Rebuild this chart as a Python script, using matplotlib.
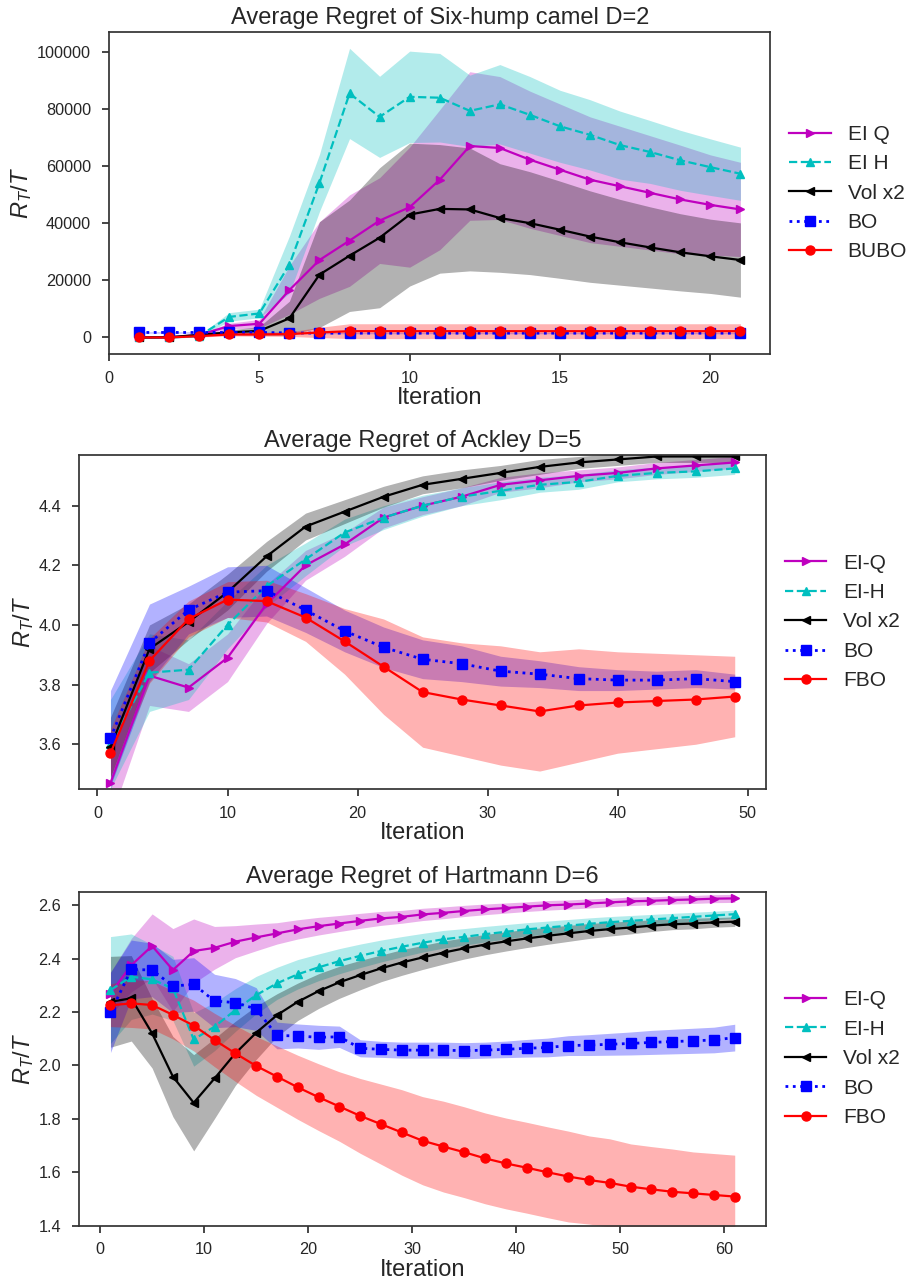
#!/usr/bin/env python3
"""
plot.py
Average regret curves (mean +/- std bands) for three benchmark functions.
"""

import matplotlib

matplotlib.use("Agg")
import matplotlib.pyplot as plt

plt.rcParams["font.family"] = ["Liberation Sans", "DejaVu Sans"]
plt.rcParams["mathtext.fontset"] = "custom"
plt.rcParams["mathtext.rm"] = "Liberation Sans"
plt.rcParams["mathtext.it"] = "Liberation Sans:italic"
plt.rcParams["text.color"] = "#262626"
plt.rcParams["axes.labelcolor"] = "#262626"
plt.rcParams["axes.edgecolor"] = "#333333"
plt.rcParams["axes.linewidth"] = 1.25
plt.rcParams["xtick.color"] = "#262626"
plt.rcParams["ytick.color"] = "#262626"
plt.rcParams["xtick.direction"] = "out"
plt.rcParams["ytick.direction"] = "out"
plt.rcParams["xtick.major.size"] = 5
plt.rcParams["ytick.major.size"] = 5
plt.rcParams["xtick.major.width"] = 1.2
plt.rcParams["ytick.major.width"] = 1.2
plt.rcParams["xtick.major.pad"] = 7
plt.rcParams["ytick.major.pad"] = 8

# ============================================================
# Six-hump camel D=2  (iterations 1..21)
# ============================================================
it_camel = list(range(1, 22))
eiq_camel = [0, 0, 900, 4000, 4800, 16600, 27100, 33900, 40900, 45600, 55200,
             67000, 66300, 62200, 58700, 55200, 52900, 50600, 48300, 46400, 44800]
eiq_camel_std = [0, 0, 300, 1000, 1500, 8500, 13400, 16000, 15000, 21000, 24500,
                 26000, 25000, 24000, 23000, 22000, 21000, 20000, 19000, 17500, 16500]
eih_camel = [0, 0, 500, 7200, 8400, 25500, 54100, 85400, 77200, 84200, 83900,
             79300, 81600, 77900, 73900, 70900, 67300, 64900, 62000, 59600, 57300]
eih_camel_std = [300, 300, 300, 1500, 1500, 10000, 10000, 15800, 14200, 16000, 15500,
                 12500, 13900, 13400, 12600, 12300, 11900, 11000, 10500, 9900, 9300]
vol_camel = [0, 100, 900, 1800, 2300, 6700, 22000, 28600, 34900, 43000, 45000,
             44800, 41800, 40000, 37700, 35300, 33300, 31500, 29800, 28400, 27100]
vol_camel_std = [100, 100, 300, 800, 1500, 6000, 18500, 19500, 24500, 25000, 22500,
                 21500, 19000, 18000, 17000, 16000, 15000, 14200, 13500, 13000, 13000]
bo_camel = [1750, 1750, 1750, 1750, 1750, 1600, 1500, 1500, 1500, 1500, 1500,
            1500, 1500, 1500, 1500, 1500, 1500, 1500, 1500, 1500, 1500]
bo_camel_std = [200] * 21
bubo_camel = [0, 0, 470, 1050, 1050, 1170, 1750, 2200, 2200, 2200, 2200,
              2200, 2200, 2200, 2200, 2200, 2200, 2200, 2200, 2200, 2200]
bubo_camel_std = [100, 100, 300, 500, 600, 800, 1800, 2600, 2600, 2600, 2600,
                  2600, 2600, 2600, 2600, 2600, 2600, 2600, 2600, 2600, 2600]

# ============================================================
# Ackley D=5  (iterations 1, 4, ..., 49)
# ============================================================
it_ackley = list(range(1, 50, 3))
eiq_ackley = [3.47, 3.83, 3.79, 3.89, 4.07, 4.20, 4.27, 4.36, 4.40, 4.43, 4.47,
              4.485, 4.50, 4.51, 4.525, 4.535, 4.545]
eiq_ackley_std = [0.12, 0.10, 0.08, 0.08, 0.065, 0.05, 0.04, 0.035, 0.03, 0.03, 0.025,
                  0.025, 0.02, 0.02, 0.02, 0.02, 0.02]
eih_ackley = [3.60, 3.84, 3.85, 4.00, 4.13, 4.22, 4.31, 4.36, 4.40, 4.43, 4.45,
              4.47, 4.48, 4.50, 4.51, 4.515, 4.525]
eih_ackley_std = [0.15, 0.13, 0.10, 0.08, 0.07, 0.055, 0.045, 0.04, 0.035, 0.03, 0.03,
                  0.025, 0.025, 0.02, 0.02, 0.02, 0.02]
vol_ackley = [3.59, 3.92, 4.01, 4.11, 4.23, 4.33, 4.38, 4.43, 4.47, 4.49, 4.51,
              4.53, 4.545, 4.555, 4.565, 4.565, 4.565]
vol_ackley_std = [0.10, 0.08, 0.06, 0.06, 0.05, 0.045, 0.04, 0.035, 0.03, 0.03, 0.025,
                  0.025, 0.02, 0.02, 0.02, 0.02, 0.02]
bo_ackley = [3.62, 3.94, 4.05, 4.11, 4.115, 4.05, 3.98, 3.925, 3.885, 3.87, 3.845,
             3.835, 3.82, 3.815, 3.815, 3.82, 3.81]
bo_ackley_std = [0.16, 0.13, 0.08, 0.085, 0.085, 0.075, 0.07, 0.068, 0.065, 0.06, 0.05,
                 0.045, 0.04, 0.035, 0.03, 0.03, 0.025]
fbo_ackley = [3.57, 3.88, 4.02, 4.085, 4.08, 4.025, 3.945, 3.86, 3.775, 3.75, 3.73,
              3.71, 3.73, 3.74, 3.745, 3.75, 3.76]
fbo_ackley_std = [0.08, 0.075, 0.06, 0.06, 0.07, 0.08, 0.11, 0.16, 0.185, 0.19, 0.20,
                  0.20, 0.19, 0.17, 0.16, 0.15, 0.135]

# ============================================================
# Hartmann D=6  (iterations 1, 3, ..., 61)
# ============================================================
it_hart = list(range(1, 62, 2))
eiq_hart = [2.269, 2.375, 2.447, 2.357, 2.428, 2.440, 2.463, 2.479, 2.494, 2.509,
            2.521, 2.531, 2.541, 2.550, 2.556, 2.565, 2.571, 2.578, 2.584, 2.589,
            2.594, 2.599, 2.602, 2.606, 2.610, 2.614, 2.616, 2.619, 2.621, 2.624, 2.625]
eiq_hart_std = [0.08, 0.10, 0.12, 0.155, 0.12, 0.08, 0.06, 0.05, 0.04, 0.036,
                0.033, 0.03, 0.028, 0.026, 0.024, 0.023, 0.022, 0.021, 0.02, 0.019,
                0.018, 0.018, 0.017, 0.017, 0.016, 0.016, 0.015, 0.015, 0.015, 0.015, 0.015]
eih_hart = [2.282, 2.332, 2.322, 2.288, 2.097, 2.145, 2.207, 2.263, 2.307, 2.341,
            2.367, 2.390, 2.410, 2.428, 2.444, 2.459, 2.472, 2.481, 2.491, 2.500,
            2.509, 2.516, 2.523, 2.530, 2.536, 2.541, 2.546, 2.551, 2.556, 2.561, 2.566]
eih_hart_std = [0.20, 0.16, 0.13, 0.12, 0.10, 0.09, 0.08, 0.07, 0.06, 0.055,
                0.05, 0.047, 0.044, 0.041, 0.038, 0.035, 0.033, 0.031, 0.029, 0.027,
                0.025, 0.024, 0.023, 0.022, 0.021, 0.02, 0.019, 0.018, 0.017, 0.016, 0.015]
vol_hart = [2.238, 2.251, 2.120, 1.958, 1.860, 1.951, 2.045, 2.122, 2.188, 2.238,
            2.278, 2.311, 2.338, 2.363, 2.385, 2.404, 2.422, 2.438, 2.452, 2.464,
            2.475, 2.485, 2.494, 2.503, 2.510, 2.516, 2.523, 2.528, 2.531, 2.535, 2.538]
vol_hart_std = [0.17, 0.16, 0.13, 0.15, 0.18, 0.15, 0.12, 0.10, 0.08, 0.07,
                0.065, 0.06, 0.055, 0.05, 0.048, 0.045, 0.043, 0.04, 0.038, 0.036,
                0.034, 0.032, 0.03, 0.028, 0.026, 0.024, 0.022, 0.02, 0.02, 0.018, 0.018]
bo_hart = [2.198, 2.359, 2.357, 2.297, 2.303, 2.241, 2.235, 2.211, 2.112, 2.110,
           2.105, 2.107, 2.064, 2.060, 2.057, 2.057, 2.057, 2.055, 2.057, 2.060,
           2.064, 2.067, 2.074, 2.076, 2.079, 2.082, 2.086, 2.089, 2.092, 2.095, 2.104]
bo_hart_std = [0.15, 0.11, 0.10, 0.10, 0.10, 0.10, 0.09, 0.08, 0.05, 0.045,
               0.045, 0.04, 0.032, 0.03, 0.03, 0.03, 0.03, 0.03, 0.03, 0.031,
               0.033, 0.035, 0.037, 0.039, 0.041, 0.043, 0.045, 0.046, 0.047, 0.048, 0.05]
fbo_hart = [2.225, 2.232, 2.226, 2.189, 2.149, 2.095, 2.045, 1.998, 1.958, 1.918,
            1.881, 1.846, 1.811, 1.780, 1.749, 1.718, 1.696, 1.675, 1.652, 1.633,
            1.617, 1.600, 1.584, 1.571, 1.560, 1.546, 1.536, 1.527, 1.521, 1.515, 1.509]
fbo_hart_std = [0.08, 0.09, 0.09, 0.09, 0.095, 0.10, 0.105, 0.11, 0.115, 0.12,
                0.125, 0.13, 0.14, 0.15, 0.16, 0.165, 0.17, 0.17, 0.17, 0.17,
                0.17, 0.17, 0.17, 0.165, 0.165, 0.16, 0.16, 0.16, 0.155, 0.155, 0.155]

# style per method: color, marker, linestyle, marker size
STYLES = [
    ("m", ">", "-", 5.5),
    ("c", "^", "--", 5.5),
    ("k", "<", "-", 5.5),
    ("b", "s", ":", 6.5),
    ("r", "o", "-", 6.5),
]


def draw_panel(ax, x, series, labels, title):
    # bands first, then the mean curves on top
    for (mean, std), (color, _, _, _) in zip(series, STYLES):
        lo = [m - s for m, s in zip(mean, std)]
        hi = [m + s for m, s in zip(mean, std)]
        ax.fill_between(x, lo, hi, color=color, alpha=0.3, linewidth=0)
    for (mean, _), (color, marker, ls, ms), label in zip(series, STYLES, labels):
        lw = 2.0 if ls == ":" else 1.6
        ax.plot(x, mean, color=color, marker=marker, linestyle=ls,
                linewidth=lw, markersize=ms, label=label)
    ax.set_title(title, fontsize=17)
    ax.set_xlabel("Iteration", fontsize=17, labelpad=1)
    ax.set_ylabel(r"$R_T/T$", fontsize=17, labelpad=2)
    ax.tick_params(labelsize=11.7)
    ax.legend(loc="center left", bbox_to_anchor=(1.0, 0.5), frameon=False,
              fontsize=15, handlelength=2.0)


def main():
    fig = plt.figure(figsize=(9.1, 12.86), dpi=100)

    ax1 = fig.add_axes([0.1198, 0.7247, 0.7269, 0.2502])
    draw_panel(
        ax1, it_camel,
        [(eiq_camel, eiq_camel_std), (eih_camel, eih_camel_std),
         (vol_camel, vol_camel_std), (bo_camel, bo_camel_std),
         (bubo_camel, bubo_camel_std)],
        ["EI Q", "EI H", "Vol x2", "BO", "BUBO"],
        "Average Regret of Six-hump camel D=2",
    )
    ax1.set_xlim(0, 22)
    ax1.set_ylim(-5800, 106800)
    ax1.set_xticks([0, 5, 10, 15, 20])
    ax1.set_yticks([0, 20000, 40000, 60000, 80000, 100000])

    ax2 = fig.add_axes([0.0871, 0.3865, 0.7546, 0.2597])
    draw_panel(
        ax2, it_ackley,
        [(eiq_ackley, eiq_ackley_std), (eih_ackley, eih_ackley_std),
         (vol_ackley, vol_ackley_std), (bo_ackley, bo_ackley_std),
         (fbo_ackley, fbo_ackley_std)],
        ["EI-Q", "EI-H", "Vol x2", "BO", "FBO"],
        "Average Regret of Ackley D=5",
    )
    ax2.set_xlim(-1.4, 51.4)
    ax2.set_ylim(3.45, 4.57)
    ax2.set_xticks([0, 10, 20, 30, 40, 50])
    ax2.set_yticks([3.6, 3.8, 4.0, 4.2, 4.4])

    ax3 = fig.add_axes([0.0871, 0.0469, 0.7546, 0.2597])
    draw_panel(
        ax3, it_hart,
        [(eiq_hart, eiq_hart_std), (eih_hart, eih_hart_std),
         (vol_hart, vol_hart_std), (bo_hart, bo_hart_std),
         (fbo_hart, fbo_hart_std)],
        ["EI-Q", "EI-H", "Vol x2", "BO", "FBO"],
        "Average Regret of Hartmann D=6",
    )
    ax3.set_xlim(-2, 64)
    ax3.set_ylim(1.4, 2.65)
    ax3.set_xticks([0, 10, 20, 30, 40, 50, 60])
    ax3.set_yticks([1.4, 1.6, 1.8, 2.0, 2.2, 2.4, 2.6])

    fig.savefig("out.png", dpi=100)


if __name__ == "__main__":
    main()
